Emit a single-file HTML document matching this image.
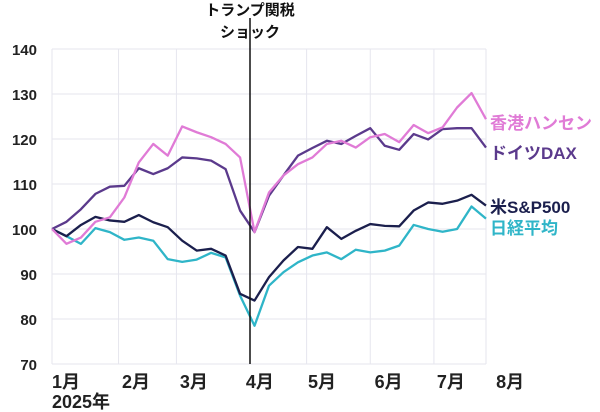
<!DOCTYPE html>
<html><head><meta charset="utf-8"><style>
body{margin:0;background:#fff;}
svg{display:block;font-family:"Liberation Sans","Noto Sans CJK JP",sans-serif;font-weight:bold;}
</style></head><body>
<svg id="c" width="600" height="412" viewBox="0 0 600 412"></svg>
<script>
const yTicks=[70,80,90,100,110,120,130,140];
const monthLabels=["1月","2月","3月","4月","5月","6月","7月","8月"];
const monthPos=[0,4.84,8.84,13.4,17.7,22.3,26.6,30.7];
const hangSeng=[100,96.7,98.1,101.6,102.6,107,114.8,118.9,116.3,122.8,121.5,120.4,118.9,115.9,99.3,108.1,111.9,114.4,115.9,118.9,119.6,118.1,120.4,121.1,119.3,123.1,121.3,122.6,127,130.2,124.4];
const dax=[100,101.6,104.4,107.8,109.4,109.6,113.5,112.2,113.5,115.9,115.7,115.2,113.3,104.1,99.3,107.4,111.9,116.3,118,119.6,118.9,120.7,122.4,118.5,117.6,121.1,119.9,122.2,122.4,122.4,118.1];
const sp500=[100,98.4,100.9,102.7,101.9,101.6,103.1,101.5,100.4,97.4,95.2,95.6,94.1,85.6,84.1,89.3,93,96,95.6,100.4,97.8,99.6,101.1,100.7,100.6,104.1,105.9,105.6,106.3,107.6,105.2];
const nikkei=[100,98.4,96.7,100.2,99.3,97.6,98.1,97.4,93.3,92.7,93.2,94.7,93.7,85.2,78.5,87.4,90.4,92.6,94.1,94.8,93.3,95.4,94.8,95.2,96.3,100.9,100,99.4,100,105,102.3];
const seriesNames=["香港ハンセン","ドイツDAX","米S&P500","日経平均"];

const NS="http://www.w3.org/2000/svg",svg=document.getElementById('c');
const X0=52,X1=486,Y0=49,Y1=364,N=hangSeng.length;
const sx=i=>X0+i*(X1-X0)/(N-1);
const sy=v=>Y1-(v-70)*(Y1-Y0)/70;
function mk(t,a){const e=document.createElementNS(NS,t);for(const k in a)e.setAttribute(k,a[k]);svg.appendChild(e);return e;}
yTicks.forEach(v=>{
 const g=mk('line',{x1:X0,x2:X1,y1:sy(v),y2:sy(v),stroke:'#e6e6ee','stroke-width':1});
 
 
 const t=mk('text',{x:37,y:sy(v)+6,'text-anchor':'end','font-size':15,fill:'#222'});t.textContent=v;
 
 
});
[0,4.6,8.6,17.6,22,26.4,30].forEach(p=>{
 const g=mk('line',{x1:sx(p),x2:sx(p),y1:Y0,y2:Y1,stroke:'#e6e6ee','stroke-width':1});
 
 
});
monthLabels.forEach((m,i)=>{
 const t=mk('text',{x:sx(monthPos[i]),y:388,'font-size':18,fill:'#222','text-anchor':'start'});t.textContent=m;
 
 
});
const yr=mk('text',{x:52,y:408,'font-size':18,fill:'#222'});yr.textContent="2025年";


const cols=['#e07bd6','#5b3a8c','#1b1f4d','#2fb5c8'];
[nikkei,sp500,dax,hangSeng].forEach((s,k)=>{
 const idx=[3,2,1,0][k];
 const p=mk('polyline',{points:s.map((v,i)=>sx(i)+','+sy(v)).join(' '),fill:'none',stroke:cols[idx],'stroke-width':2.3,'stroke-linejoin':'round'});
 
 
});
const sl=mk('line',{x1:250,x2:250,y1:18,y2:364,stroke:'#111','stroke-width':1.5});


const t1=mk('text',{x:250,y:15,'text-anchor':'middle','font-size':15,fill:'#111'});t1.textContent="トランプ関税";


const t2=mk('text',{x:250,y:37,'text-anchor':'middle','font-size':15,fill:'#111'});t2.textContent="ショック";


const ly=[129,159,213,234];
seriesNames.forEach((n,i)=>{
 const t=mk('text',{x:490,y:ly[i],'font-size':17,fill:cols[i]});t.textContent=n;
 
 
});
</script>
</body></html>
